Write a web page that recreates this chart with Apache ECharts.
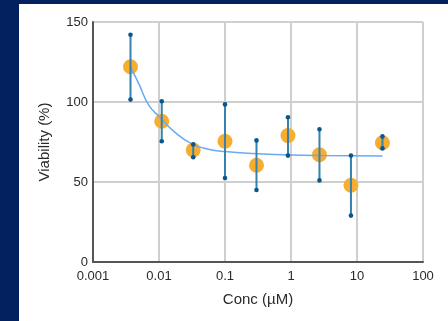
<!DOCTYPE html>
<html>
<head>
<meta charset="utf-8">
<script src="https://cdn.jsdelivr.net/npm/echarts@6/dist/echarts.min.js"></script>
<style>
  html, body { margin: 0; padding: 0; background: #04215f; }
  #chart { position: absolute; left: 19px; top: 4px; width: 429px; height: 317px; background: #fff; }
</style>
</head>
<body>
<div id="chart"></div>
<script>
  // concentrations (uM), 3-fold dilution
  var conc = [0.0037, 0.011, 0.033, 0.1, 0.3, 0.9, 2.7, 8.1, 24.3];
  // mean viability (%)
  var viability = [122, 88, 70, 75.5, 60.5, 79, 67, 48, 74.5];
  // error bar ends
  var upper = [142, 100.5, 73.5, 98.5, 76, 90.5, 83, 66.5, 78.5];
  var lower = [101.5, 75.5, 65.5, 52.5, 45, 66.5, 51, 29, 71];
  // fitted curve
  var fitX = [0.0037, 0.005, 0.007, 0.01, 0.0175, 0.031, 0.056, 0.1, 0.3, 1, 3, 24.3];
  var fitY = [122, 111, 98, 91, 81, 74, 70.5, 69, 67.7, 66.8, 66.5, 66.3];

  var points = conc.map(function(c, i) { return [c, viability[i]]; });
  var bars = conc.map(function(c, i) { return [c, upper[i], lower[i]]; });
  var fit = fitX.map(function(c, i) { return [c, fitY[i]]; });

  var chart = echarts.init(document.getElementById('chart'));
  var option = {
    animation: false,
    grid: { left: 74, right: 25, top: 18, bottom: 59 },
    xAxis: {
      type: 'log',
      logBase: 10,
      min: 0.001,
      max: 100,
      name: 'Conc (\u00b5M)',
      nameLocation: 'middle',
      nameGap: 30,
      nameTextStyle: { fontSize: 15, color: '#2a2a2a', fontFamily: 'Liberation Sans' },
      axisLine: { lineStyle: { color: '#555', width: 2 } },
      axisTick: { show: false },
      axisLabel: {
        margin: 8, fontSize: 13, color: '#2a2a2a', fontFamily: 'Liberation Sans',
        formatter: function(v) { return String(+v.toPrecision(3)); }
      },
      splitLine: { show: true, lineStyle: { color: '#cfcfcf', width: 2 } }
    },
    yAxis: {
      type: 'value',
      min: 0,
      max: 150,
      interval: 50,
      name: 'Viability (%)',
      nameLocation: 'middle',
      nameGap: 41,
      nameTextStyle: { fontSize: 15, color: '#2a2a2a', fontFamily: 'Liberation Sans' },
      axisLine: { show: true, lineStyle: { color: '#555', width: 2 } },
      axisTick: { show: false },
      axisLabel: { margin: 5, fontSize: 13, color: '#2a2a2a', fontFamily: 'Liberation Sans' },
      splitLine: { show: true, lineStyle: { color: '#cfcfcf', width: 2 } }
    },
    series: [{
      type: 'scatter',
      data: points,
      symbolSize: 15,
      itemStyle: { color: '#f7ad30', opacity: 1 },
      z: 2
    }, {
      type: 'line',
      data: fit,
      smooth: true,
      showSymbol: false,
      lineStyle: { color: '#6aaaf0', width: 1.5 },
      z: 3
    }, {
      type: 'custom',
      data: bars,
      encode: { x: 0, y: [1, 2] },
      z: 4,
      renderItem: function(params, api) {
        var top = api.coord([api.value(0), api.value(1)]);
        var bot = api.coord([api.value(0), api.value(2)]);
        return {
          type: 'group',
          children: [{
            type: 'line',
            shape: { x1: top[0], y1: top[1], x2: bot[0], y2: bot[1] },
            style: { stroke: '#3482ad', lineWidth: 2 }
          }, {
            type: 'circle',
            shape: { cx: top[0], cy: top[1], r: 2.3 },
            style: { fill: '#0d5689' }
          }, {
            type: 'circle',
            shape: { cx: bot[0], cy: bot[1], r: 2.3 },
            style: { fill: '#0d5689' }
          }]
        };
      }
    }]
  };
  chart.setOption(option);
</script>
</body>
</html>
